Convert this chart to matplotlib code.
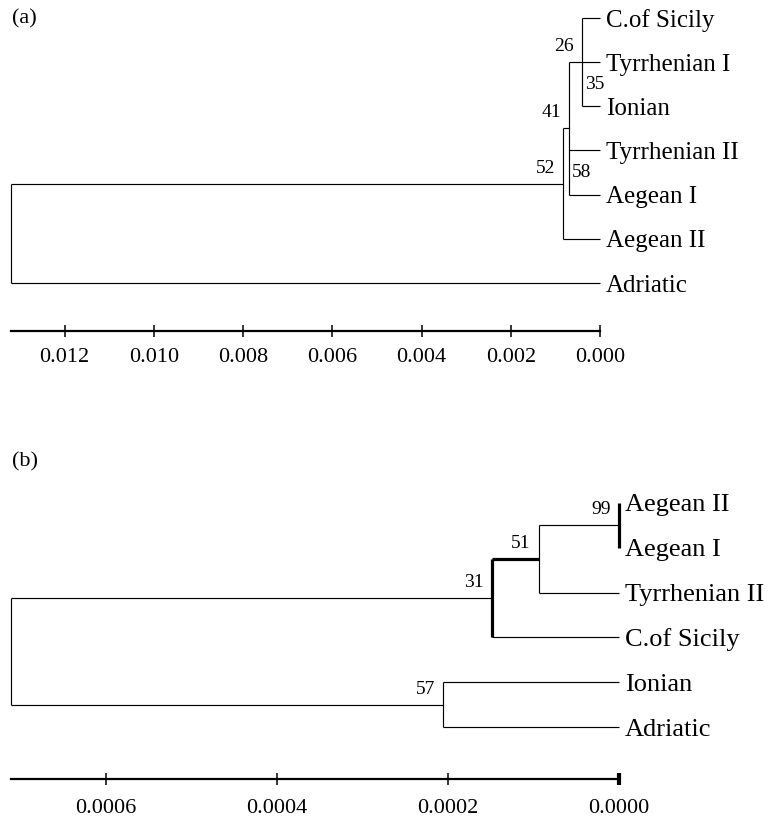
import matplotlib
matplotlib.use("Agg")
import matplotlib.pyplot as plt

plt.rcParams['font.family'] = ['Liberation Serif', 'DejaVu Serif']

# ---------------- data ----------------
# Panel (a)
leaves_a = ["C.of Sicily", "Tyrrhenian I", "Ionian", "Tyrrhenian II",
            "Aegean I", "Aegean II", "Adriatic"]
nodes_a = ["n26", "n41", "n52", "root"]
children_a = [["C.of Sicily", "Tyrrhenian I", "Ionian"],
              ["n26", "Tyrrhenian II", "Aegean I"],
              ["n41", "Aegean II"],
              ["n52", "Adriatic"]]
heights_a = [0.00040, 0.00070, 0.00083, 0.0132]
support_a = [26, 41, 52, None]
inner_support_a = [35, 58]
inner_parent_a = ["n26", "n41"]
inner_members_a = [["Tyrrhenian I", "Ionian"], ["Tyrrhenian II", "Aegean I"]]
ticks_a = [0.012, 0.010, 0.008, 0.006, 0.004, 0.002, 0.000]
ticklabels_a = ["0.012", "0.010", "0.008", "0.006", "0.004", "0.002", "0.000"]

# Panel (b)
leaves_b = ["Aegean II", "Aegean I", "Tyrrhenian II", "C.of Sicily",
            "Ionian", "Adriatic"]
nodes_b = ["n99", "n51", "n31", "n57", "root"]
children_b = [["Aegean II", "Aegean I"],
              ["n99", "Tyrrhenian II"],
              ["n51", "C.of Sicily"],
              ["Ionian", "Adriatic"],
              ["n31", "n57"]]
heights_b = [0.0, 0.000094, 0.000149, 0.000206, 0.000711]
support_b = [99, 51, 31, 57, None]
ticks_b = [0.0006, 0.0004, 0.0002, 0.0]
ticklabels_b = ["0.0006", "0.0004", "0.0002", "0.0000"]

# ---------------- drawing ----------------
W, H = 770, 821
fig = plt.figure(figsize=(W / 100, H / 100), dpi=100)


def px_axes(x0, y0, x1, y1):
    return fig.add_axes([x0 / W, 1 - y1 / H, (x1 - x0) / W, (y1 - y0) / H])


THIN = 0.85
THICK = 2.3


def draw_tree(ax, leaves, names, children, heights, supports,
              leaf_fs, sup_fs, thick_vert=(), thick_stem=(),
              inner_sup=(), inner_par=(), inner_mem=()):
    ypos = {l: float(i) for i, l in enumerate(leaves)}
    hpos = {l: 0.0 for l in leaves}
    idx = {n: i for i, n in enumerate(names)}
    for n, h in zip(names, heights):
        hpos[n] = h

    def get_y(n):
        if n in ypos:
            return ypos[n]
        ch = children[idx[n]]
        y = (get_y(ch[0]) + get_y(ch[-1])) / 2
        ypos[n] = y
        return y

    for n in names:
        get_y(n)

    for n, ch, h, s in zip(names, children, heights, supports):
        lwv = THICK if n in thick_vert else THIN
        ax.plot([h, h], [ypos[ch[0]], ypos[ch[-1]]], color='black', lw=lwv,
                solid_capstyle='butt', clip_on=False)
        for c in ch:
            lws = THICK if c in thick_stem else THIN
            ax.plot([h, hpos[c]], [ypos[c], ypos[c]], color='black', lw=lws,
                    solid_capstyle='butt', clip_on=False)
        if s is not None:
            ax.annotate(str(s), (h, ypos[n]), xytext=(-8, 11),
                        textcoords='offset pixels', ha='right', va='baseline',
                        fontsize=sup_fs, annotation_clip=False)

    for s, p, mem in zip(inner_sup, inner_par, inner_mem):
        y = sum(ypos[m] for m in mem) / len(mem)
        ax.annotate(str(s), (hpos[p], y), xytext=(3, 0),
                    textcoords='offset pixels', ha='left', va='center',
                    fontsize=sup_fs, annotation_clip=False)

    for l in leaves:
        ax.annotate(l, (0.0, ypos[l]), xytext=(6, 0), textcoords='offset pixels',
                    ha='left', va='center_baseline', fontsize=leaf_fs,
                    annotation_clip=False)


def style_axis(ax, ticks, labels, pad):
    for sp in ['left', 'top', 'right']:
        ax.spines[sp].set_visible(False)
    ax.spines['bottom'].set_linewidth(1.6)
    ax.set_yticks([])
    ax.set_xticks(ticks)
    ax.set_xticklabels(labels, fontsize=16)
    ax.tick_params(axis='x', direction='inout', length=9, width=1.1, pad=pad)
    ax.patch.set_alpha(0)


# Panel (a): axes spans x 11..600 px, y 0..331 px ; leaves 18..283 px
ax_a = px_axes(11, 0, 600, 331)
sp_a = (283 - 18) / 6
ax_a.set_xlim(0.0132, 0.0)
ax_a.set_ylim((331 - 18) / sp_a, (0 - 18) / sp_a)
draw_tree(ax_a, leaves_a, nodes_a, children_a, heights_a, support_a,
          leaf_fs=18, sup_fs=14,
          inner_sup=inner_support_a, inner_par=inner_parent_a,
          inner_mem=inner_members_a)
style_axis(ax_a, ticks_a, ticklabels_a, pad=8)

# Panel (b): axes spans x 11..619 px, y 480..779 px ; leaves 503..727 px
ax_b = px_axes(11, 480, 619, 779)
sp_b = (727 - 503) / 5
ax_b.set_xlim(0.000711, 0.0)
ax_b.set_ylim((779 - 503) / sp_b, (480 - 503) / sp_b)
draw_tree(ax_b, leaves_b, nodes_b, children_b, heights_b, support_b,
          leaf_fs=19, sup_fs=14, thick_vert=("n31", "n99"),
          thick_stem=("n51",))
style_axis(ax_b, ticks_b, ticklabels_b, pad=10)
ax_b.xaxis.get_major_ticks()[-1].tick1line.set_markeredgewidth(3)

fig.text(12 / W, 1 - 9 / H, "(a)", fontsize=16, ha='left', va='top')
fig.text(12 / W, 1 - 452 / H, "(b)", fontsize=16, ha='left', va='top')

fig.savefig("out.png", dpi=100)
